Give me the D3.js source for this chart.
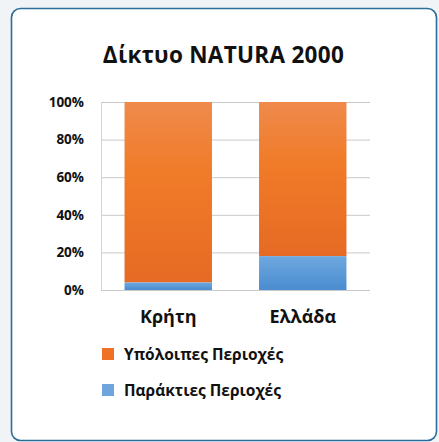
<!DOCTYPE html>
<html lang="el">
<head>
  <meta charset="UTF-8">
  <title>Δίκτυο NATURA 2000</title>
  <script src="https://d3js.org/d3.v7.min.js"></script>
  <style>
    body { margin: 0; background: #f1f4f7; font-family: "Open Sans", sans-serif; }
    svg { display: block; }
  </style>
</head>
<body>
  <script>
    const categories = ["Κρήτη", "Ελλάδα"];
    const coastal = [4, 18];      // Παράκτιες Περιοχές (%)
    const remaining = [96, 82];   // Υπόλοιπες Περιοχές (%)
    const yTicks = [0, 20, 40, 60, 80, 100];
    const seriesNames = ["Υπόλοιπες Περιοχές", "Παράκτιες Περιοχές"];

    const width = 439, height = 442;
    const svg = d3.select("body").append("svg")
      .attr("width", width).attr("height", height);

    const defs = svg.append("defs");
    const gOr = defs.append("linearGradient").attr("id", "gOr")
      .attr("x1", 0).attr("y1", 0).attr("x2", 0).attr("y2", 1);
    gOr.append("stop").attr("offset", "0%").attr("stop-color", "#ef8a4c");
    gOr.append("stop").attr("offset", "40%").attr("stop-color", "#f07b28");
    gOr.append("stop").attr("offset", "100%").attr("stop-color", "#e66a24");
    const gBl = defs.append("linearGradient").attr("id", "gBl")
      .attr("x1", 0).attr("y1", 0).attr("x2", 0).attr("y2", 1);
    gBl.append("stop").attr("offset", "0%").attr("stop-color", "#6ea8de");
    gBl.append("stop").attr("offset", "100%").attr("stop-color", "#4a8cd0");

    // card
    svg.append("rect")
      .attr("x", 11.5).attr("y", 8.5).attr("width", 425).attr("height", 432)
      .attr("rx", 9).attr("fill", "#fff")
      .attr("stroke", "#2b6d98").attr("stroke-width", 1.6);

    svg.append("text")
      .attr("x", 223.5).attr("y", 63)
      .attr("text-anchor", "middle")
      .attr("font-size", 22.5).attr("font-weight", "bold").attr("fill", "#111")
      .attr("letter-spacing", 0.3)
      .text("Δίκτυο NATURA 2000");

    const x = d3.scaleBand().domain(categories).range([101, 370]).paddingInner(0.35).paddingOuter(0.175);
    const y = d3.scaleLinear().domain([0, 100]).range([290, 102]);

    // gridlines
    svg.append("g").selectAll("line").data(yTicks).join("line")
      .attr("x1", 101).attr("x2", 370)
      .attr("y1", d => y(d) + 0.5).attr("y2", d => y(d) + 0.5)
      .attr("stroke", "#c9c9c9").attr("stroke-width", 1);
    svg.append("line")
      .attr("x1", 101.5).attr("x2", 101.5).attr("y1", y(100)).attr("y2", y(0))
      .attr("stroke", "#d4d4d4");

    // y axis labels
    const yAxis = d3.axisLeft(y).tickValues(yTicks).tickSize(0).tickPadding(17).tickFormat(d => d + "%");
    const ya = svg.append("g").attr("transform", "translate(101,0)").call(yAxis);
    ya.select(".domain").remove();
    ya.selectAll("text").attr("font-family", "Open Sans").attr("font-size", 13.5)
      .attr("font-weight", "bold").attr("fill", "#111");

    // bars
    const bars = svg.append("g");
    bars.selectAll(".rem").data(categories).join("rect")
      .attr("x", d => x(d)).attr("width", x.bandwidth())
      .attr("y", (d, i) => y(coastal[i] + remaining[i]))
      .attr("height", (d, i) => y(coastal[i]) - y(coastal[i] + remaining[i]))
      .attr("fill", "url(#gOr)");
    bars.selectAll(".coast").data(categories).join("rect")
      .attr("x", d => x(d)).attr("width", x.bandwidth())
      .attr("y", (d, i) => y(coastal[i]))
      .attr("height", (d, i) => y(0) - y(coastal[i]))
      .attr("fill", "url(#gBl)");

    // x labels
    const xAxis = d3.axisBottom(x).tickSize(0).tickPadding(20);
    const xa = svg.append("g").attr("transform", "translate(0,290)").call(xAxis);
    xa.select(".domain").remove();
    xa.selectAll("text").attr("font-family", "Open Sans").attr("font-size", 18)
      .attr("font-weight", "bold").attr("fill", "#111");

    // legend
    const legColors = ["#ee7126", "#6fa4dc"];
    const leg = svg.append("g").selectAll("g").data(seriesNames).join("g")
      .attr("transform", (d, i) => `translate(102,${348 + i * 36})`);
    leg.append("rect").attr("width", 12).attr("height", 12).attr("fill", (d, i) => legColors[i]);
    leg.append("text").attr("x", 22).attr("y", 12)
      .attr("font-size", 15.5).attr("font-weight", "bold").attr("fill", "#111")
      .text(d => d);
  </script>
</body>
</html>
